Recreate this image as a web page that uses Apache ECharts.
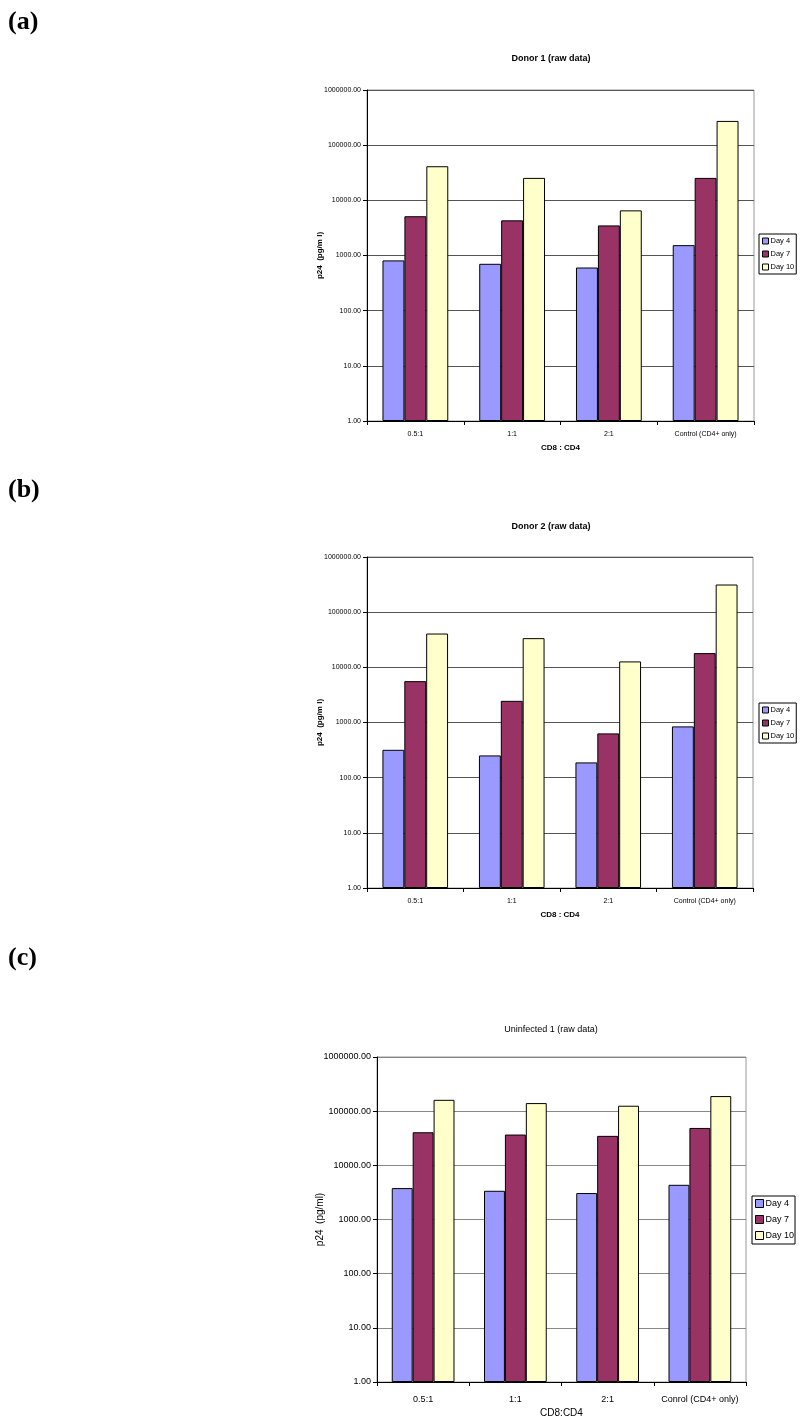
<!DOCTYPE html>
<html>
<head>
<meta charset="utf-8">
<script src="https://cdn.jsdelivr.net/npm/echarts@6/dist/echarts.min.js"></script>
<style>
html,body{margin:0;padding:0;background:#fff;}
#chart{width:800px;height:1427px;}
</style>
</head>
<body>
<div id="chart"></div>
<script>
// ---- data ----
const categoriesDonor = ['0.5:1', '1:1', '2:1', 'Control (CD4+ only)'];
const categoriesUninf = ['0.5:1', '1:1', '2:1', 'Conrol (CD4+ only)'];
const seriesNames = ['Day 4', 'Day 7', 'Day 10'];
const yTickValues = [1, 10, 100, 1000, 10000, 100000, 1000000];

const donor1Day4 = [815, 707, 606, 1540];
const donor1Day7 = [5150, 4340, 3510, 25500];
const donor1Day10 = [41500, 25500, 6580, 275000];

const donor2Day4 = [320, 253, 189, 850];
const donor2Day7 = [5620, 2470, 635, 18100];
const donor2Day10 = [41000, 33800, 12800, 317000];

const uninfDay4 = [3800, 3390, 3080, 4370];
const uninfDay7 = [40800, 37000, 35000, 49000];
const uninfDay10 = [162000, 141000, 126000, 190000];

const panelTitles = ['Donor 1 (raw data)', 'Donor 2 (raw data)', 'Uninfected 1 (raw data)'];
const panelLetters = ['(a)', '(b)', '(c)'];
const xAxisNames = ['CD8 : CD4', 'CD8 : CD4', 'CD8:CD4'];
const yAxisNames = ['p24  (pg/m l)', 'p24  (pg/m l)', 'p24  (pg/ml)'];

// ---- styling ----
const colors = ['#9999FF', '#993366', '#FFFFCC'];
const FONT = '"Liberation Sans", Arial, sans-serif';

const panels = [
  {grid: {left: 367, right: 46, top: 90, height: 331}, data: [donor1Day4, donor1Day7, donor1Day10], cats: categoriesDonor,
   small: true, gridColor: '#555', legend: {left: 759, top: 234}, titleTop: 49, letterTop: 9},
  {grid: {left: 367, right: 47, top: 557, height: 331}, data: [donor2Day4, donor2Day7, donor2Day10], cats: categoriesDonor,
   small: true, gridColor: '#555', legend: {left: 759, top: 703}, titleTop: 517, letterTop: 477},
  {grid: {left: 377, right: 54, top: 1057, height: 325}, data: [uninfDay4, uninfDay7, uninfDay10], cats: categoriesUninf,
   small: false, gridColor: '#888', legend: {left: 752, top: 1196}, titleTop: 1020, letterTop: 945}
];

const option = {
  animation: false,
  backgroundColor: '#fff',
  title: [], grid: [], xAxis: [], yAxis: [], series: [], legend: [], graphic: []
};

panels.forEach((p, i) => {
  const fs = p.small ? 7 : 9;
  const bold = p.small ? 'bold' : 'normal';
  option.grid.push(Object.assign({show: true, borderColor: '#999', borderWidth: 1, containLabel: false}, p.grid));
  option.title.push({
    text: panelTitles[i], left: 546, top: p.titleTop, textAlign: 'center',
    textStyle: {fontFamily: FONT, fontSize: 9, fontWeight: bold, color: '#000'}
  });
  option.xAxis.push({
    type: 'category', gridIndex: i, data: p.cats,
    name: xAxisNames[i], nameLocation: 'middle', nameGap: p.small ? 23 : 26, nameMoveOverlap: false,
    nameTextStyle: {fontFamily: FONT, fontSize: p.small ? 8 : 10, fontWeight: bold, color: '#000'},
    axisLine: {lineStyle: {color: '#000', width: 1}},
    axisTick: {show: true, length: 4, lineStyle: {color: '#000'}},
    axisLabel: {fontFamily: FONT, fontSize: fs, color: '#000', margin: p.small ? 10 : 13, interval: 0},
    splitLine: {show: false}
  });
  option.yAxis.push({
    type: 'log', gridIndex: i, logBase: 10, min: yTickValues[0], max: yTickValues[yTickValues.length - 1],
    splitNumber: 6,
    name: yAxisNames[i], nameLocation: 'middle', nameGap: p.small ? 43 : 52, nameRotate: 90, nameMoveOverlap: false,
    nameTextStyle: {fontFamily: FONT, fontSize: p.small ? 8 : 10, fontWeight: bold, color: '#000'},
    axisLine: {show: true, lineStyle: {color: '#000', width: 1}},
    axisTick: {show: true, length: 4, lineStyle: {color: '#000'}},
    axisLabel: {fontFamily: FONT, fontSize: fs, color: '#000', margin: 6,
      formatter: v => Number(v).toFixed(2)},
    splitLine: {show: true, lineStyle: {color: p.gridColor, width: 1}}
  });
  p.data.forEach((arr, k) => {
    option.series.push({
      type: 'bar', name: seriesNames[k], xAxisIndex: i, yAxisIndex: i, data: arr,
      barGap: '0%', barCategoryGap: '32%',
      itemStyle: {color: colors[k], borderColor: '#000', borderWidth: 1}
    });
  });
  option.legend.push({
    orient: 'vertical', left: p.legend.left, top: p.legend.top,
    data: seriesNames, icon: 'rect',
    itemWidth: p.small ? 6 : 8, itemHeight: p.small ? 6 : 8, itemGap: p.small ? 5 : 7,
    padding: p.small ? [3, 2, 3, 3] : [3, 1, 4, 3], borderColor: '#000', borderWidth: 1,
    itemStyle: {borderColor: '#000', borderWidth: 1},
    textStyle: {fontFamily: FONT, fontSize: p.small ? 7.5 : 9, color: '#000', padding: [0, 0, 0, -3]},
    selectedMode: false
  });
  option.graphic.push({
    type: 'text', left: 8, top: p.letterTop,
    style: {text: panelLetters[i], font: 'bold 26px "Liberation Serif", "Times New Roman", serif', fill: '#000'}
  });
});

const chart = echarts.init(document.getElementById('chart'), null, {renderer: 'canvas'});
chart.setOption(option);
</script>
</body>
</html>
